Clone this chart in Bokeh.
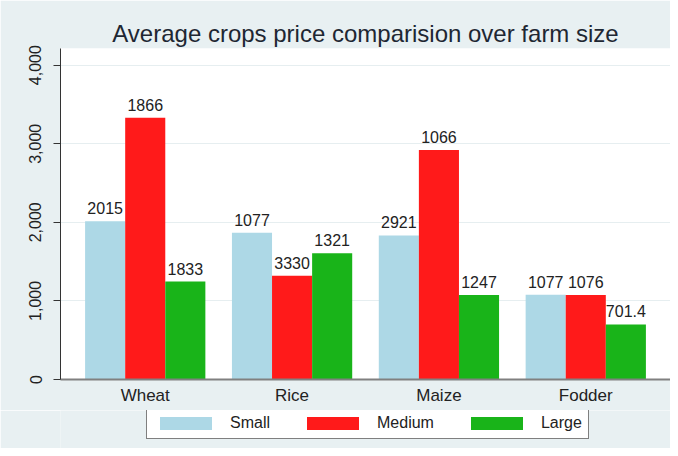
from bokeh.plotting import figure
from bokeh.layouts import column
from bokeh.models import (ColumnDataSource, FactorRange, Range1d, Legend, LegendItem,
                          NumeralTickFormatter, FixedTicker)
from bokeh.transform import dodge
from bokeh.core.properties import value
from bokeh.embed import file_html
from bokeh.resources import INLINE

# ---- data ----
crops = ["Wheat", "Rice", "Maize", "Fodder"]
series = ["Small", "Medium", "Large"]
small = [2015, 1866, 1833, 1077]
medium = [3330, 1321, 2921, 1076]
large = [1247, 1605, 1074, 701.4]
# value labels as printed in the chart
small_labels = ["2015", "1077", "2921", "1077"]
medium_labels = ["1866", "3330", "1066", "1076"]
large_labels = ["1833", "1321", "1247", "701.4"]
y_ticks = [0, 1000, 2000, 3000, 4000]

colors = ["#ADD8E6", "#FF1A1A", "#19B419"]
FONT = "Liberation Sans"
BG = "#E8F0F2"

src = ColumnDataSource(dict(crop=crops, Small=small, Medium=medium, Large=large,
                            Small_l=small_labels, Medium_l=medium_labels,
                            Large_l=large_labels))

xr = FactorRange(*crops, range_padding=0.077, range_padding_units="absolute")

p = figure(width=670, height=410, output_backend="svg", toolbar_location=None,
           x_range=xr, y_range=Range1d(0, 4212),
           min_border_left=60, min_border_right=0, min_border_top=48, min_border_bottom=31,
           title="Average crops price comparision over farm size")

p.background_fill_color = "white"
p.border_fill_color = BG
p.outline_line_color = None

p.title.align = "center"
p.title.text_font = FONT
p.title.text_font_size = "24px"
p.title.text_font_style = "normal"
p.title.text_color = "#1E2733"
p.title.standoff = 4

bw = 0.273
offsets = [-bw, 0.0, bw]
for s, c, off in zip(series, colors, offsets):
    p.vbar(x=dodge("crop", off, range=xr), top=s, width=bw, source=src,
           fill_color=c, line_color=None)
    p.text(x=dodge("crop", off, range=xr), y=s, text=s + "_l", source=src,
           text_font=value(FONT), text_font_size="16px", text_color="#222222",
           text_align="center", text_baseline="alphabetic", y_offset=-13)

# axes
p.xgrid.grid_line_color = None
p.ygrid.grid_line_color = "#E6EEF0"
p.ygrid.ticker = FixedTicker(ticks=y_ticks)

p.yaxis.ticker = FixedTicker(ticks=y_ticks)
p.yaxis.formatter = NumeralTickFormatter(format="0,0")
p.yaxis.major_label_orientation = "vertical"
p.yaxis.major_label_text_font = FONT
p.yaxis.major_label_text_font_size = "16px"
p.yaxis.major_label_text_color = "#222222"
p.yaxis.axis_line_color = "#333333"
p.yaxis.major_tick_line_color = "#333333"
p.yaxis.major_tick_out = 7
p.yaxis.major_tick_in = 0
p.yaxis.minor_tick_line_color = None
p.yaxis.major_label_standoff = 12

p.xaxis.axis_line_color = "#808080"
p.xaxis.axis_line_width = 2
p.xaxis.major_tick_line_color = None
p.xaxis.major_tick_out = 0
p.xaxis.major_tick_in = 0
p.xaxis.minor_tick_line_color = None
p.xaxis.major_label_text_font = FONT
p.xaxis.major_label_text_font_size = "17px"
p.xaxis.major_label_text_color = "#222222"
p.xaxis.major_label_standoff = 6

# legend strip below the chart; its renderers are hidden, only the swatches show
lg = figure(width=670, height=38, output_backend="svg", toolbar_location=None,
            x_range=xr, y_range=Range1d(0, 4212),
            min_border_left=60, min_border_right=0,
            min_border_top=0, min_border_bottom=0)
lg.axis.visible = False
lg.grid.visible = False
lg.outline_line_color = None
lg.background_fill_color = BG
lg.border_fill_color = BG
items = []
for s, c, off in zip(series, colors, offsets):
    r = lg.vbar(x=dodge("crop", off, range=xr), top=s, width=bw, source=src,
                fill_color=c, line_color=None, visible=False)
    items.append(LegendItem(label=s, renderers=[r]))

legend = Legend(items=items, orientation="horizontal", location=(86, 9),
                glyph_width=65, glyph_height=16, label_height=16, label_width=20,
                label_standoff=12, spacing=30, padding=6, margin=0,
                label_text_font=FONT, label_text_font_size="16px", label_text_color="#222222",
                border_line_color="black", border_line_width=1, background_fill_color="white",
                background_fill_alpha=1, inactive_fill_alpha=0)
lg.add_layout(legend, "center")

layout = column(p, lg, spacing=0)
open("out.html", "w").write(file_html(layout, INLINE))
